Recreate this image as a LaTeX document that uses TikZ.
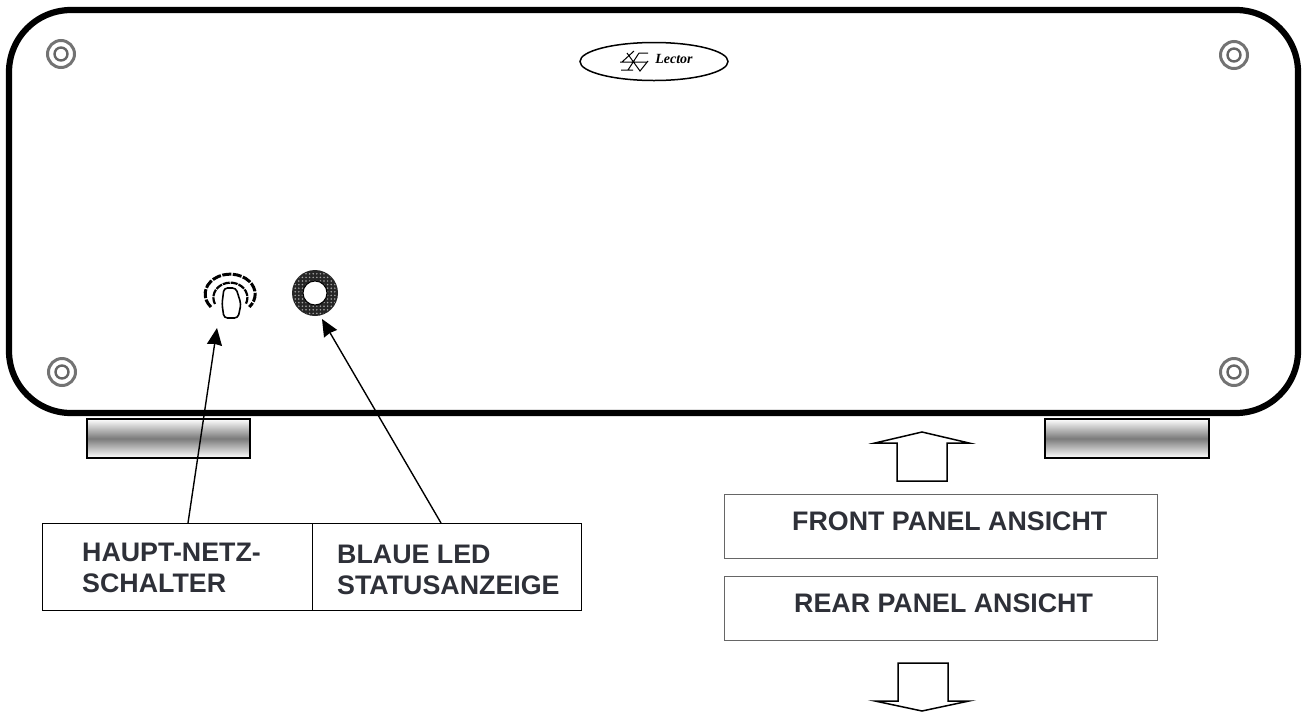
\documentclass[tikz,border=0pt]{standalone}
\usepackage{fontspec}
\setmainfont{Liberation Sans}
\newfontfamily\logofont{Liberation Serif}
\usetikzlibrary{arrows.meta,patterns.meta,shapes.geometric}

\definecolor{labelink}{HTML}{2E3038}
\tikzset{
  labelbox/.style={draw=black,line width=0.9pt,minimum height=#1,inner sep=0pt},
  viewbox/.style={draw=black!60,line width=1pt,minimum height=#1,inner sep=0pt},
  labeltext/.style={text=labelink,font=\fontsize{26.8}{31}\selectfont\bfseries,align=left,anchor=west,inner sep=0pt},
  foot/.style={draw=black,line width=1.2pt,top color=white,bottom color=white,middle color=black!52},
  hollowarrow/.style={draw=black,line width=1.5pt,line join=miter},
  pointer/.style={line width=1.4pt,-{Stealth[length=17pt,width=15pt,inset=1pt]}},
}

\begin{document}
\begin{tikzpicture}[x=1pt,y=-1pt]
    \useasboundingbox (0,0) rectangle (1304,713);

    % housing and feet
    \node[foot,minimum width=163pt,minimum height=39pt,inner sep=0pt] (footL) at (168.5,438.5) {};
    \node[foot,minimum width=164pt,minimum height=39pt,inner sep=0pt] (footR) at (1127,438.5) {};
    \draw[line width=6.2pt,rounded corners=62pt] (9,10) rectangle (1298,413);

    % screws
    \foreach \name/\px/\py in {tl/61/54,tr/1234/55,bl/62/372,br/1234/372} {
      \node[circle,draw=black!55,line width=3pt,minimum size=27pt,inner sep=0pt] (screw\name) at (\px,\py) {};
      \node[circle,draw=black!60,line width=2.4pt,minimum size=13pt,inner sep=0pt] at (\px,\py) {};
    }

    % logo
    \node[ellipse,draw,line width=1.5pt,minimum width=148pt,minimum height=38pt,inner sep=0pt] (logo) at (654,61.5) {};
    \node[font=\logofont\itshape\bfseries\fontsize{14}{14}\selectfont,inner sep=0pt] (lector) at (674,58.5) {Lector};
    \draw[line width=1pt] (620,62) -- (647,62) (621,70) -- (633,70) (639,53) -- (648,53)
      (639,53) -- (628,70) (634,51) -- (622,62) (627,53) -- (640,71) -- (648,61);

    % switch
    \node[circle,minimum size=60pt,inner sep=0pt] (schalter) at (230,293) {};
    \draw[line width=3pt,dash pattern=on 9pt off 1.5pt] (211,307) arc[start angle=220,end angle=-40,x radius=25pt,y radius=20pt];
    \draw[line width=2.2pt,dash pattern=on 7pt off 1pt] (215,304) arc[start angle=205,end angle=-25,x radius=17pt,y radius=15pt];
    \draw[fill=white,line width=1.6pt,rounded corners=3.5pt] (224,318) -- (222,304) -- (224,288) -- (236,288) -- (241,304) -- (238,318) -- cycle;

    % led
    \node[circle,fill=black!85,minimum size=46pt,inner sep=0pt] (led) at (315,293) {};
    \path[pattern={Dots[distance=3.6pt,radius=0.85pt]},pattern color=black!35,even odd rule] (315,293) circle (22pt) (315,293) circle (13pt);
    \node[circle,fill=white,draw=black,line width=1pt,minimum size=24pt,inner sep=0pt] (ledhole) at (315,293) {};

    % label boxes
    \node[labelbox=87pt,minimum width=270pt] (netzbox) at (177,566.5) {};
    \node[labelbox=87pt,minimum width=269pt] (ledbox) at (446.5,566.5) {};
    \node[labeltext] (netztext) at (82,568) {HAUPT-NETZ-\\SCHALTER};
    \node[labeltext] (ledtext) at (337,570) {BLAUE LED\\STATUSANZEIGE};
    \node[viewbox=64pt,minimum width=433pt] (frontbox) at (940.5,526) {};
    \node[viewbox=64pt,minimum width=433pt] (rearbox) at (940.5,608) {};
    \node[labeltext] (fronttext) at (792,521) {FRONT PANEL ANSICHT};
    \node[labeltext] (reartext) at (794,603) {REAR PANEL ANSICHT};

    % pointers
    \coordinate (netzfrom) at (188,523);
    \coordinate (netzto) at (217,328);
    \coordinate (ledfrom) at (441,523);
    \coordinate (ledto) at (322,319);
    \path[pointer] (netzfrom) edge (netzto);
    \path[pointer] (ledfrom) edge (ledto);

    % hollow arrows
    \draw[hollowarrow] (897,481) -- (897,443) -- (875,443) -- (922,432) -- (969,443) -- (947,443) -- (947,481) -- cycle;
    \draw[hollowarrow] (898,663) -- (898,701) -- (875,701) -- (922,711) -- (969,701) -- (948,701) -- (948,663) -- cycle;
\end{tikzpicture}
\end{document}
